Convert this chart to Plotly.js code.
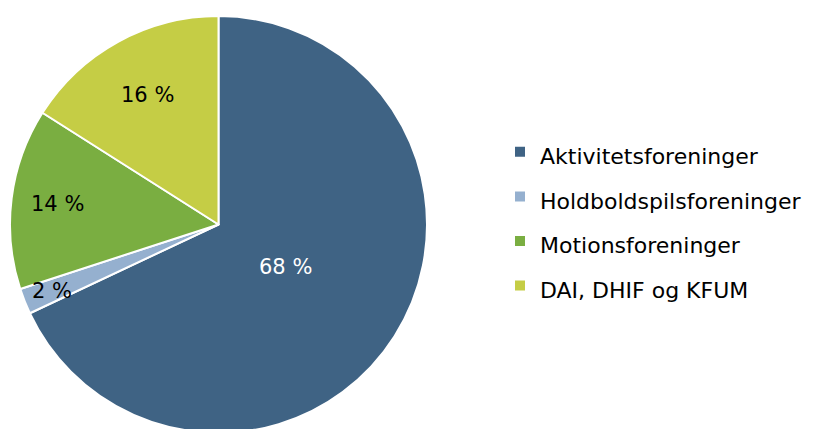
<!DOCTYPE html>
<html><head><meta charset="utf-8">
<script src="https://cdn.plot.ly/plotly-3.0.1.min.js"></script>
<style>html,body{margin:0;padding:0;overflow:hidden;background:#fff}#chart{width:813px;height:450px}</style>
</head><body><div id="chart"></div>
<script>
const categories = ["Aktivitetsforeninger", "Holdboldspilsforeninger", "Motionsforeninger", "DAI, DHIF og KFUM"];
const values = [68, 2, 14, 16];
const sliceColors = ["#3F6384", "#95B0CF", "#7AAE41", "#C5CD45"];
const textColors = ["#ffffff", "#000000", "#000000", "#000000"];
// label distance from centre, as a fraction of the radius (style)
const labelRadius = [0.38, 0.86, 0.78, 0.71];

const W = 813, H = 450;
const cx = 218.5, cy = 224.5, R = 208.5;
const legendLabels = categories.map(c => "<span style='font-size:22px'>" + c + "</span>");

const total = values.reduce((a, b) => a + b, 0);
let cum = 0;
const annotations = values.map((v, i) => {
  const mid = (cum + v / 2) / total * 2 * Math.PI;
  cum += v;
  const r = labelRadius[i] * R;
  return {
    xref: "paper", yref: "paper",
    x: (cx + r * Math.sin(mid)) / W,
    y: 1 - (cy - r * Math.cos(mid)) / H,
    xanchor: "center", yanchor: "middle",
    text: v + " %", showarrow: false,
    font: {family: "DejaVu Sans", size: 21, color: textColors[i]}
  };
});

Plotly.newPlot("chart", [{
  type: "pie",
  labels: legendLabels,
  values: values,
  sort: false,
  direction: "clockwise",
  rotation: 0,
  marker: {colors: sliceColors, line: {color: "#ffffff", width: 2}},
  textinfo: "none",
  hoverinfo: "none",
  domain: {x: [(cx - R) / W, (cx + R) / W], y: [1 - (cy + R) / H, 1 - (cy - R) / H]}
}], {
  width: W, height: H,
  margin: {l: 0, r: 0, t: 0, b: 0},
  paper_bgcolor: "#ffffff",
  showlegend: true,
  annotations: annotations,
  legend: {
    x: 500 / W, xanchor: "left", y: 1 - 219 / H, yanchor: "middle",
    itemwidth: 30,
    font: {family: "DejaVu Sans", size: 32, color: "#000000"}
  }
}, {staticPlot: true});
</script></body></html>
